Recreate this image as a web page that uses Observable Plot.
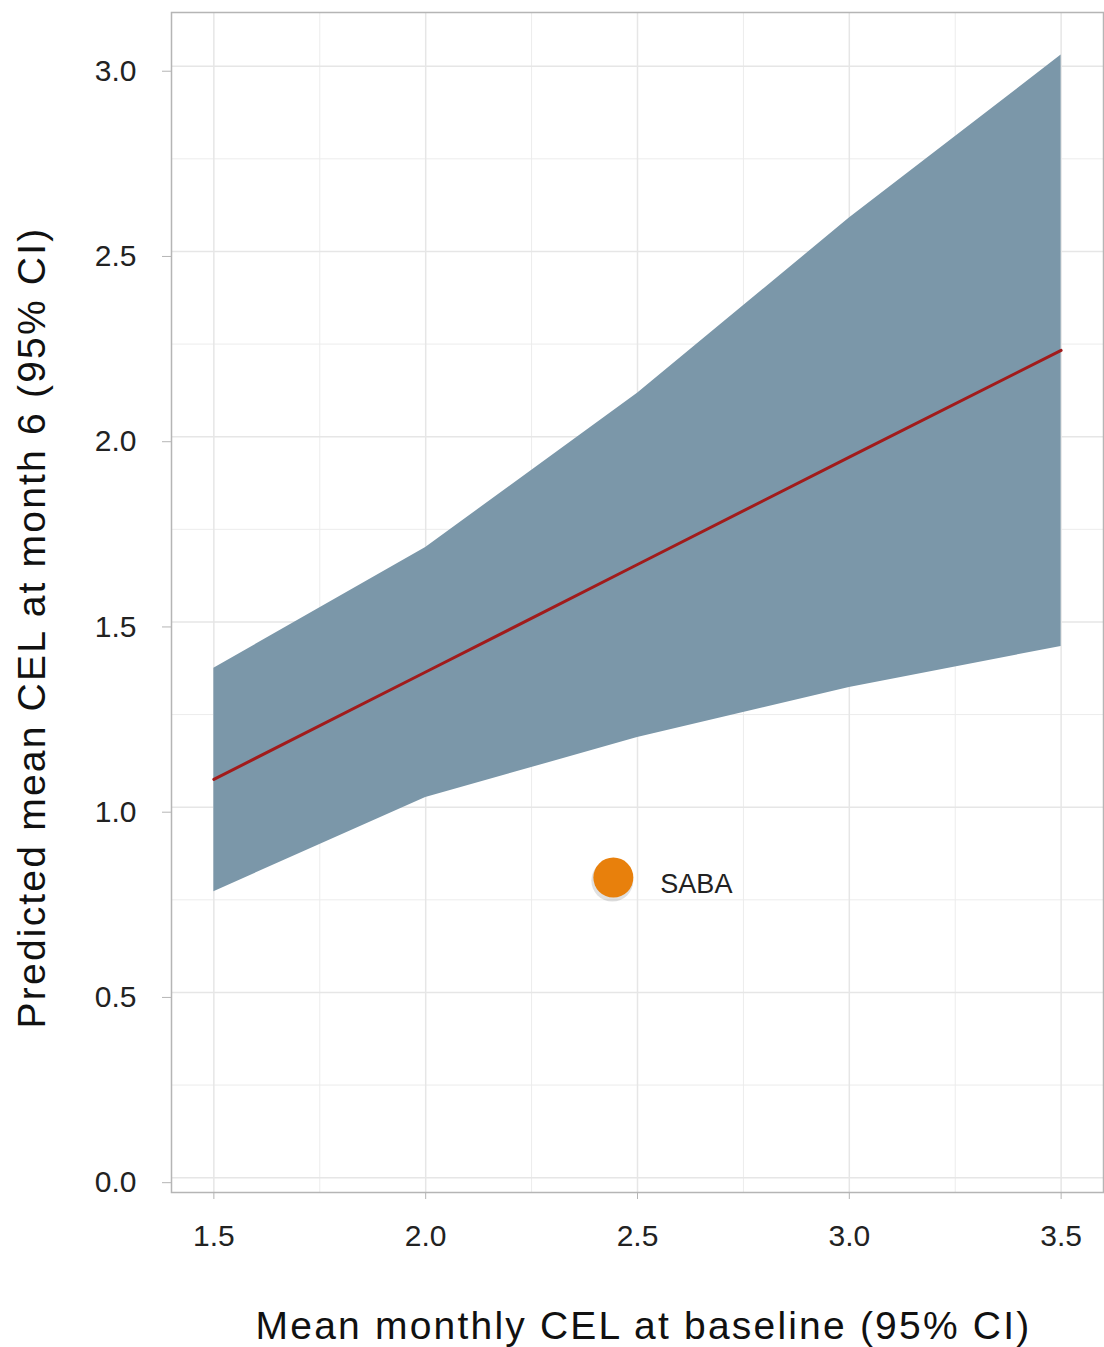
<!DOCTYPE html>
<html>
<head>
<meta charset="utf-8">
<script src="https://cdn.jsdelivr.net/npm/d3@7"></script>
<script src="https://cdn.jsdelivr.net/npm/@observablehq/plot@0.6"></script>
<style>
  html, body { margin: 0; padding: 0; background: #fff; }
  svg { display: block; }
</style>
</head>
<body>
<div id="chart"></div>
<script>
// Baseline values (x) and predicted values
const baseline = [1.5, 2.0, 2.5, 3.0, 3.5];
const predicted = [1.075, 1.365, 1.655, 1.945, 2.233];
const ciLower = [0.772, 1.026, 1.188, 1.323, 1.434];
const ciUpper = [1.375, 1.701, 2.117, 2.59, 3.03];

// Reference point
const pointLabels = ["SABA"];
const pointX = [2.443];
const pointY = [0.81];

// Axis ticks
const xTicks = [1.5, 2.0, 2.5, 3.0, 3.5];
const xMinor = [1.75, 2.25, 2.75, 3.25];
const yTicks = [0.0, 0.5, 1.0, 1.5, 2.0, 2.5, 3.0];
const yMinor = [0.25, 0.75, 1.25, 1.75, 2.25, 2.75];

const xTitle = "Mean monthly CEL at baseline (95% CI)";
const yTitle = "Predicted mean CEL at month 6 (95% CI)";

const band = baseline.map((x, i) => ({x, lo: ciLower[i], hi: ciUpper[i], y: predicted[i]}));
const points = pointLabels.map((label, i) => ({label, x: pointX[i], y: pointY[i]}));

const font = "'Liberation Sans', Arial, Helvetica, sans-serif";

const chart = Plot.plot({
  width: 1104,
  height: 1347,
  marginLeft: 171,
  marginTop: 12,
  marginRight: 1,
  marginBottom: 155,
  style: {fontFamily: font, background: "#fff", color: "#222"},
  x: {domain: [1.4, 3.6]},
  y: {domain: [-0.04, 3.145]},
  marks: [
    Plot.gridX(xMinor, {stroke: "#ececec", strokeOpacity: 1, strokeWidth: 1}),
    Plot.gridY(yMinor, {stroke: "#ececec", strokeOpacity: 1, strokeWidth: 1}),
    Plot.gridX(xTicks, {stroke: "#e6e6e6", strokeOpacity: 1, strokeWidth: 1.5}),
    Plot.gridY(yTicks, {stroke: "#e6e6e6", strokeOpacity: 1, strokeWidth: 1.5}),
    Plot.areaY(band, {x: "x", y1: "lo", y2: "hi", fill: "#7b97a9", fillOpacity: 1}),
    Plot.lineY(band, {x: "x", y: "y", stroke: "#a11b1b", strokeWidth: 3}),
    Plot.dot(points, {x: "x", y: "y", r: 21, fill: "#000", fillOpacity: 0.12, dx: -1, dy: 3}),
    Plot.dot(points, {x: "x", y: "y", r: 20, fill: "#e8800c", stroke: "none"}),
    Plot.text(points, {x: "x", y: "y", text: "label", dx: 47, dy: 7, textAnchor: "start", fontSize: 27, fill: "#222"}),
    Plot.frame({stroke: "#b5b5b5", strokeWidth: 1.5}),
    Plot.axisX(xTicks, {tickSize: 7, tickPadding: 25, fontSize: 30, tickFormat: d3.format(".1f"), stroke: "#b5b5b5", label: null, fill: "#222"}),
    Plot.axisY(yTicks, {tickSize: 9, tickPadding: 26, fontSize: 30, dy: 5, tickFormat: d3.format(".1f"), stroke: "#b5b5b5", label: null, fill: "#222"}),
    Plot.text([xTitle], {ariaLabel: () => "x-title", frameAnchor: "bottom", lineAnchor: "bottom", textAnchor: "middle", dx: 6, dy: 146, fontSize: 39, fill: "#111"}),
    Plot.text([yTitle], {ariaLabel: () => "y-title", frameAnchor: "left", lineAnchor: "bottom", textAnchor: "middle", rotate: -90, dx: -127, dy: 25, fontSize: 39, fill: "#111"})
  ]
});

d3.select(chart).selectAll('text[aria-label="x-title"]').style("letter-spacing", "2.2px");
d3.select(chart).selectAll('text[aria-label="y-title"]').style("letter-spacing", "2.2px");

document.getElementById("chart").appendChild(chart);
</script>
</body>
</html>
